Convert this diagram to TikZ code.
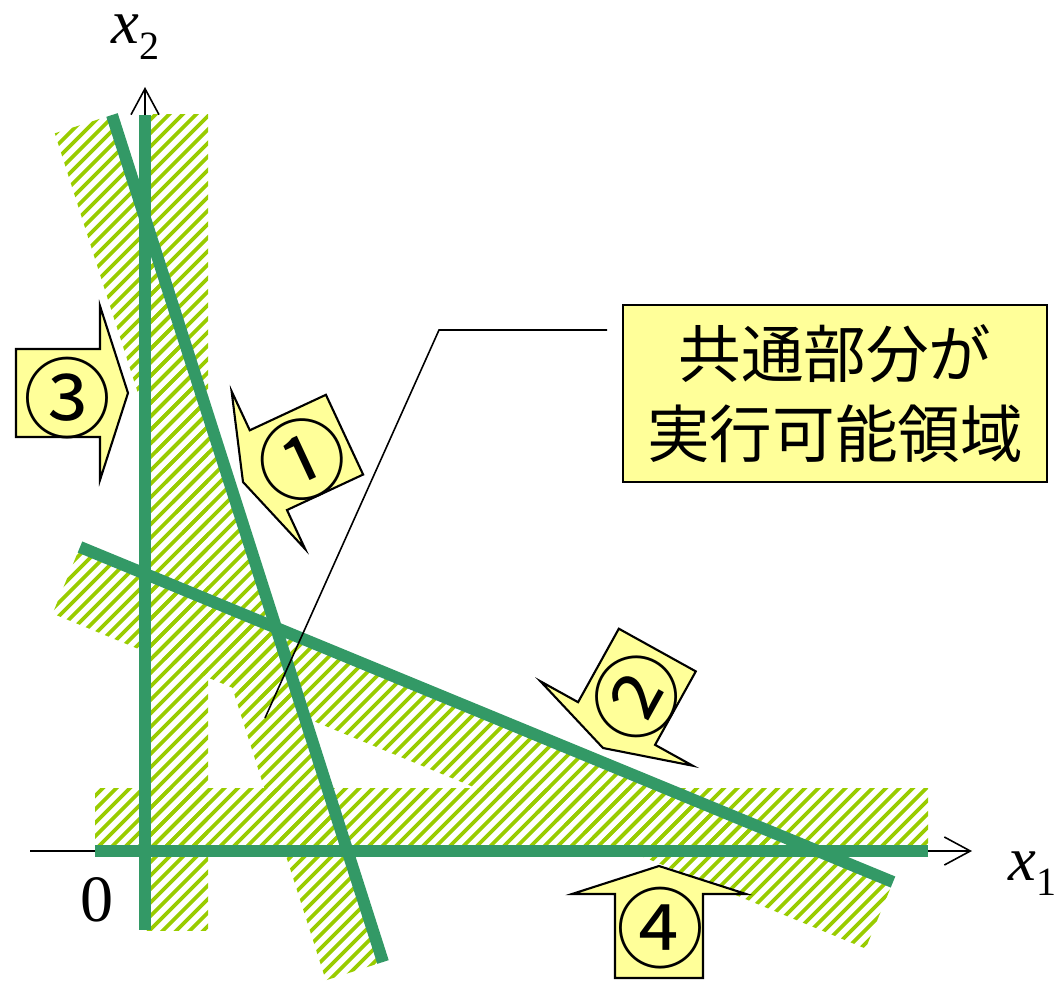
\documentclass[tikz,border=0pt]{standalone}
\usepackage{fontspec}
\setmainfont{Liberation Serif}
\newfontfamily\cjk{Noto Sans CJK JP}
\usetikzlibrary{arrows.meta}
\definecolor{hatchc}{HTML}{99CC00}
\definecolor{linec}{HTML}{339966}
\definecolor{pale}{HTML}{FFFF99}
\tikzset{
  hatchline/.style={hatchc, line width=1.05pt},
  bound/.style={linec, line width=3.4pt},
  axisline/.style={black, line width=0.45pt, -{Straight Barb[length=0.26cm,width=0.28cm,line width=0.45pt]}},
  blockarrow/.style={fill=pale, draw=black, line width=0.6pt, line join=miter},
  digit/.style={font=\cjk\fontsize{25}{25}\selectfont, inner sep=0pt},
  pointer/.style={black, line width=0.45pt},
  notebox/.style={draw=black, fill=pale, line width=0.6pt, minimum width=4.24cm, minimum height=1.77cm,
    align=center, inner sep=0pt, font=\cjk\fontsize{17.8}{22.8}\selectfont},
  label/.style={font=\fontsize{17.8}{18}\selectfont, inner sep=0pt},
}
\newcommand{\hatchband}[1]{%
  \begin{scope}
    \clip #1;
    \foreach \c in {0,13.5,...,2100}{\draw[hatchline] (\c,0) -- ++(-1100,1100);}
  \end{scope}}
\newcommand{\blockarr}[2]{%
  \draw[blockarrow, shift={(#1)}, rotate=#2]
    (0,0) -- (-28,87) -- (-28,44) -- (-112,44) -- (-112,-44) -- (-28,-44) -- (-28,-87) -- cycle;}
\begin{document}
\begin{tikzpicture}[x=0.01cm, y=-0.01cm]
\useasboundingbox (0,0) rectangle (1055,982);
% hatched bands
\hatchband{(145,115) -- (208,115) -- (208,930) -- (145,930) -- cycle}
\hatchband{(95,788) -- (928,788) -- (928,851) -- (95,851) -- cycle}
\hatchband{(112,115) -- (383,962) -- (325.8,980.3) -- (54.8,133.3) -- cycle}
\hatchband{(80,547) -- (893,882) -- (865.6,948.6) -- (52.6,613.6) -- cycle}
% axes
\coordinate (x1s) at (30,851);
\coordinate (x1e) at (972,851);
\coordinate (x2s) at (145,930);
\coordinate (x2e) at (145,87);
\draw[axisline] (x1s) -- (x1e);
\draw[axisline] (x2s) -- (x2e);
% boundary lines
\coordinate (va) at (145,115); \coordinate (vb) at (145,930);
\coordinate (ha) at (95,851);  \coordinate (hb) at (928,851);
\coordinate (oa) at (112,115); \coordinate (ob) at (383,962);
\coordinate (ta) at (80,547);  \coordinate (tb) at (893,882);
\draw[bound] (va) -- (vb);
\draw[bound] (ha) -- (hb);
\draw[bound] (oa) -- (ob);
\draw[bound] (ta) -- (tb);
% labels
\node[label, anchor=base west] (lx2) at (111,44) {\textit{x}\raisebox{-4.5pt}{\fontsize{11.4}{12}\selectfont 2}};
\node[label, anchor=base west] (lx1) at (1008,880) {\textit{x}\raisebox{-4.5pt}{\fontsize{11.4}{12}\selectfont 1}};
\node[font=\fontsize{18.8}{19}\selectfont, inner sep=0pt] (zero) at (97,900) {0};
% note box and pointer
\node[notebox] (note) at (835,393.5) {共通部分が\\実行可能領域};
\coordinate (pstart) at (607,330);
\coordinate (bend) at (439,330);
\coordinate (ptip) at (265,718);
\draw[pointer] (pstart) -- (bend) -- (ptip);
% block arrows
\blockarr{128,393}{0}
\blockarr{659,866}{90}
\blockarr{243,482}{-155}
\blockarr{603,748}{-119}
\node[digit] (c3) at (67,398) {③};
\node[digit] (c4) at (660,928) {④};
\node[digit, rotate=25] (c1) at (302,460) {①};
\node[digit, rotate=61] (c2) at (637,697) {②};
\end{tikzpicture}
\end{document}
